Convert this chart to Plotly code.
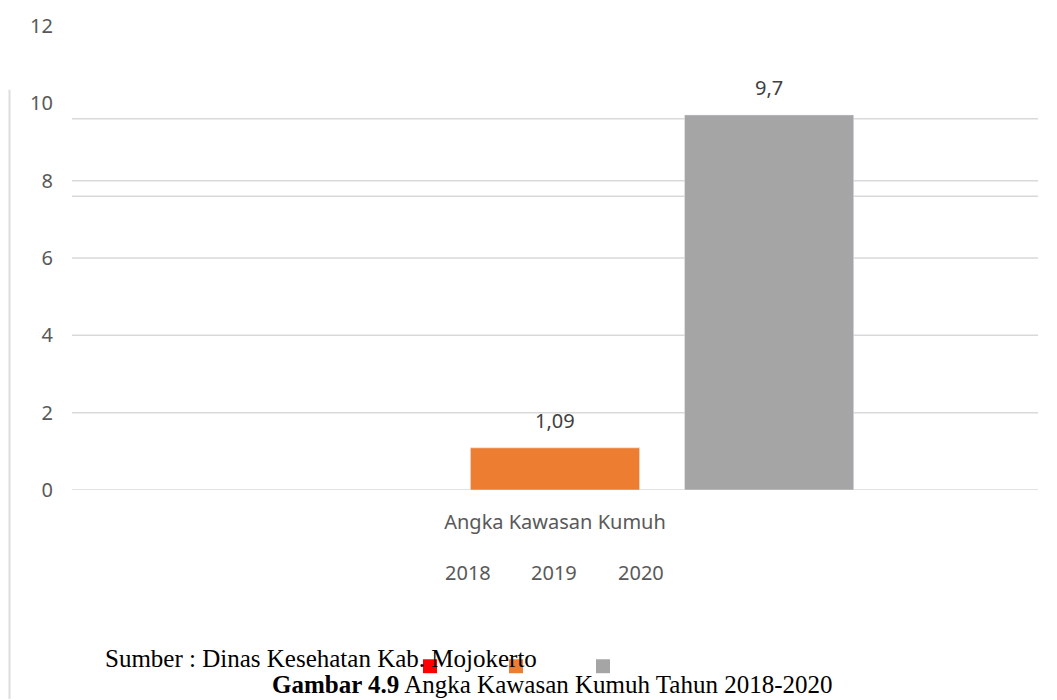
import plotly.graph_objects as go

# ---- data ----
category = ["Angka Kawasan Kumuh"]
years = ["2018", "2019", "2020"]
values = [None, 1.09, 9.7]
colors = ["#FF0000", "#ED7D31", "#A5A5A5"]
y_ticks = [0, 2, 4, 6, 8, 10, 12]

W, H = 1057, 700
L, R, T, B = 72, 19, 24, 210
PW, PH = W - L - R, H - T - B


def px(x):
    return (x - L) / PW


def py(y):
    return (H - B - y) / PH


fig = go.Figure()
for yr, v, c in zip(years, values, colors):
    fig.add_trace(go.Bar(x=category, y=[v], name=yr, marker_color=c,
                         showlegend=False))

# gridlines (as they appear in the scanned image)
grid_vals = [0, 2, 4, 6, 7.6, 8, 9.6]
for g in grid_vals:
    fig.add_shape(type="line", xref="paper", yref="y", x0=0, x1=1, y0=g, y1=g,
                  line=dict(color="#D9D9D9", width=1.5), layer="below")

# data labels
for i, (yr, v) in enumerate(zip(years, values)):
    if v is None:
        continue
    fig.add_annotation(x=category[0], y=v, xref="x", yref="y",
                       text=str(v).replace(".", ","), showarrow=False,
                       yanchor="bottom", yshift=12,
                       xshift=(i - 1) * 214,
                       font=dict(family="Noto Sans", size=20, color="#404040"))

# legend-like text and squares (as displaced in the source)
legend_x = [468, 554, 641]
square_x = [430, 516, 603]
for yr, c, lx, sx in zip(years, colors, legend_x, square_x):
    fig.add_annotation(xref="paper", yref="paper", x=px(lx), y=py(573),
                       text=yr, showarrow=False, xanchor="center", yanchor="middle",
                       font=dict(family="Noto Sans", size=20, color="#595959"))
    fig.add_shape(type="rect", xref="paper", yref="paper",
                  x0=px(sx - 7), x1=px(sx + 7), y0=py(674), y1=py(660),
                  fillcolor=c, line=dict(width=0))

# page border line at left
fig.add_shape(type="line", xref="paper", yref="paper", x0=px(9.5), x1=px(9.5),
              y0=py(88), y1=py(700), line=dict(color="#DDDDDD", width=2))

# captions
fig.add_annotation(xref="paper", yref="paper", x=px(103), y=py(659),
                   text="Sumber : Dinas Kesehatan Kab. Mojokerto", showarrow=False,
                   xanchor="left", yanchor="middle",
                   font=dict(family="Liberation Serif", size=25, color="#000000"))
fig.add_annotation(xref="paper", yref="paper", x=px(552), y=py(685),
                   text="<b>Gambar 4.9</b> Angka Kawasan Kumuh Tahun 2018-2020",
                   showarrow=False, xanchor="center", yanchor="middle",
                   font=dict(family="Liberation Serif", size=25, color="#000000"))

fig.update_layout(
    width=W, height=H,
    margin=dict(l=L, r=R, t=T, b=B),
    paper_bgcolor="white", plot_bgcolor="white",
    barmode="group", bargap=0.335, bargroupgap=0.21,
    font=dict(family="Noto Sans", size=20, color="#595959"),
    separators=",.",
)
fig.update_yaxes(range=[0, 12], tickvals=y_ticks, showgrid=False, zeroline=False,
                 showline=False, ticks="", ticklabelstandoff=18,
                 tickfont=dict(family="Noto Sans", size=20, color="#595959"))
fig.update_xaxes(showgrid=False, showline=False, ticks="", ticklabelstandoff=18,
                 tickfont=dict(family="Noto Sans", size=20, color="#595959"))

fig.write_html("out.html", config={"displayModeBar": False},
               post_script="document.body.style.margin='0';document.body.style.overflow='hidden';")
